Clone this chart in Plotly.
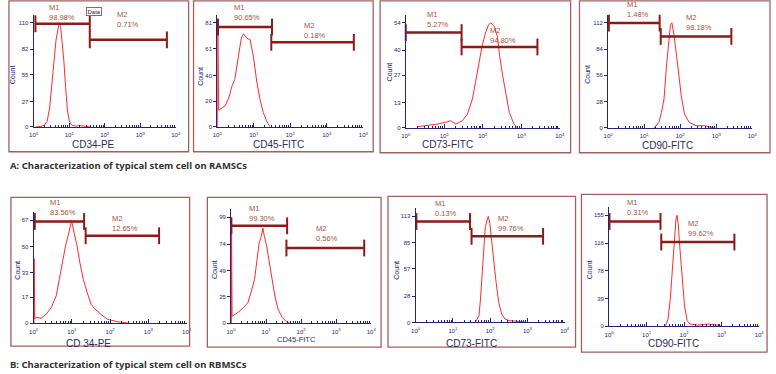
import plotly.graph_objects as go

W, H = 776, 374

# ---------------- data ----------------
# histogram curves: log10(intensity), count
A1_lx = [0.05, 0.2, 0.3, 0.38, 0.45, 0.52, 0.58, 0.63, 0.68, 0.72, 0.76, 0.8, 0.85, 0.9, 0.95, 1.0, 1.05, 1.1, 1.2, 1.3, 1.4, 1.5, 1.6]
A1_ct = [0, 0.5, 2, 6, 20, 45, 72, 92, 104, 110, 106, 92, 70, 42, 18, 7, 3, 1.5, 1, 1.5, 1, 0.5, 0]

A2_lx = [0.01, 0.015, 0.04, 0.135, 0.22, 0.32, 0.405, 0.48, 0.57, 0.66, 0.72, 0.81, 0.9, 0.99, 1.08, 1.17, 1.26, 1.35, 1.44]
A2_ct = [0, 81, 13, 15.2, 16.5, 22.9, 31.9, 37, 53.8, 69.2, 72.5, 69, 67.9, 55, 35.7, 21.6, 11.3, 4.9, 0.2]

A3_lx = [0.32, 0.57, 0.83, 1.08, 1.17, 1.3, 1.47, 1.6, 1.73, 1.81, 1.9, 1.98, 2.07, 2.15, 2.21, 2.3, 2.38, 2.44, 2.52, 2.61, 2.69, 2.81, 2.9]
A3_ct = [0.7, 1.2, 2, 3.2, 3.7, 2, 3.7, 7.1, 14.8, 23.3, 33.5, 41.9, 48.7, 53, 54, 52.1, 47, 36.8, 26.6, 16.5, 8, 2, 0]

A4_lx = [1.28, 1.41, 1.48, 1.55, 1.62, 1.68, 1.73, 1.77, 1.82, 1.89, 1.95, 2.03, 2.12, 2.25, 2.44, 2.67, 2.94]
A4_ct = [0, 6, 16.6, 30.6, 65.9, 94, 110, 112, 101, 80, 58.8, 34, 14.8, 6, 2.4, 2.4, 0]

B1_lx = [0.01, 0.012, 0.03, 0.07, 0.2, 0.33, 0.46, 0.59, 0.67, 0.76, 0.84, 0.93, 0.97, 0.99, 1.06, 1.13, 1.21, 1.3, 1.4, 1.5, 1.59, 1.75, 1.92, 2.18, 2.52]
B1_ct = [0, 42, 3, 3.9, 3.4, 6, 10.3, 17.8, 28.5, 41.4, 51.1, 59.7, 65.5, 67, 58.6, 51.1, 39.3, 28.5, 20, 12.4, 9.7, 6, 2.8, 1.1, 0]

B2_lx = [0.01, 0.012, 0.03, 0.12, 0.22, 0.36, 0.48, 0.57, 0.67, 0.73, 0.8, 0.85, 0.91, 0.95, 1.01, 1.08, 1.15, 1.25, 1.34, 1.46, 1.58, 1.67]
B2_ct = [0, 99, 6.5, 8.6, 10.8, 14.8, 19.4, 28.7, 41, 56.4, 74.9, 79.6, 88.8, 81.1, 73.4, 59.5, 44.1, 25.6, 13.2, 5.6, 1.6, 0]

B3_lx = [1.6, 1.7, 1.74, 1.78, 1.83, 1.87, 1.92, 1.95, 1.99, 2.03, 2.09, 2.16, 2.23, 2.31, 2.4, 2.53, 2.8, 2.98]
B3_ct = [0, 7.1, 24.6, 52.8, 81, 102, 109, 113, 105.6, 89.8, 66.9, 42.2, 21.1, 8.8, 3.5, 1.8, 1, 0]

B4_lx = [1.5, 1.57, 1.63, 1.68, 1.74, 1.78, 1.81, 1.84, 1.89, 1.95, 2.01, 2.08, 2.16, 2.36, 2.62, 2.89, 3.02]
B4_ct = [0, 10.1, 37.8, 74.7, 120.9, 148.5, 155, 143.9, 107, 65.4, 28.6, 7.9, 3.2, 1.8, 3.2, 1.8, 0]

# gates: [start log10, end log10, count level]
A1_M1 = [0.05, 1.58, 109]; A1_M2 = [1.58, 3.75, 92]
A2_M1 = [0.02, 1.5, 77.7]; A2_M2 = [1.48, 3.74, 65.8]
A3_M1 = [0.0, 1.45, 49]; A3_M2 = [1.45, 3.42, 41.6]
A4_M1 = [0.02, 1.43, 111.7]; A4_M2 = [1.46, 3.42, 97.5]
B1_M1 = [0.03, 1.32, 66.2]; B1_M2 = [1.36, 3.28, 56.9]
B2_M1 = [0.01, 1.6, 91]; B2_M2 = [1.58, 3.8, 70.3]
B3_M1 = [0.02, 1.46, 107.4]; B3_M2 = [1.5, 3.42, 91.6]
B4_M1 = [0.01, 1.37, 146.3]; B4_M2 = [1.39, 3.34, 117.6]

# gate percentages
A1_pct = ["98.98%", "0.71%"]
A2_pct = ["90.65%", "0.18%"]
A3_pct = ["5.27%", "94.80%"]
A4_pct = ["1.48%", "98.18%"]
B1_pct = ["83.56%", "12.65%"]
B2_pct = ["99.30%", "0.56%"]
B3_pct = ["0.13%", "99.76%"]
B4_pct = ["0.31%", "99.62%"]

# y tick labels
A1_yt = [0, 27, 55, 82, 110]
A2_yt = [0, 20, 40, 61, 81]
A3_yt = [0, 13, 27, 40, 54]
A4_yt = [0, 28, 56, 84, 112]
B1_yt = [0, 17, 33, 50, 67]
B2_yt = [0, 25, 49, 74, 99]
B3_yt = [0, 28, 57, 85, 113]
B4_yt = [0, 39, 78, 116, 155]

markers_names = ["CD34-PE", "CD45-FITC", "CD73-FITC", "CD90-FITC", "CD 34-PE", "CD45-FITC", "CD73-FITC", "CD90-FITC"]
x_tickvals = [1, 10, 100, 1000, 10000]
x_ticktext = ["10<sup>0</sup>", "10<sup>1</sup>", "10<sup>2</sup>", "10<sup>3</sup>", "10<sup>4</sup>"]
captions = ["A: Characterization of typical stem cell on RAMSCs",
            "B: Characterization of typical stem cell on RBMSCs"]

# ---------------- layout (pixels) ----------------
panels = [
    dict(lx=A1_lx, ct=A1_ct, g=[A1_M1, A1_M2], pct=A1_pct, yt=A1_yt, ax=(29, 173, 128, 23), frame=(4, 0.8, 186, 153),
         lab=[(42.7, 1.5), (111.7, 8.5)], cnt=(8, 75), xt=(90, 146, 10)),
    dict(lx=A2_lx, ct=A2_ct, g=[A2_M1, A2_M2], pct=A2_pct, yt=A2_yt, ax=(215, 363, 128, 23), frame=(191, 0.8, 373, 153),
         lab=[(230, 1.5), (301, 19.0)], cnt=(198, 77), xt=(277, 146, 10)),
    dict(lx=A3_lx, ct=A3_ct, g=[A3_M1, A3_M2], pct=A3_pct, yt=A3_yt, ax=(406, 562, 129, 23), frame=(380, 0.8, 573, 154),
         lab=[(425, 8.0), (489, 24.0)], cnt=(389, 72), xt=(448, 146, 10)),
    dict(lx=A4_lx, ct=A4_ct, g=[A4_M1, A4_M2], pct=A4_pct, yt=A4_yt, ax=(611, 757, 129, 23), frame=(582, 0.8, 775, 154),
         lab=[(628, -2.5), (688, 11.5)], cnt=(590, 75), xt=(671, 147, 10)),
    dict(lx=B1_lx, ct=B1_ct, g=[B1_M1, B1_M2], pct=B1_pct, yt=B1_yt, ax=(29, 184, 326, 222), frame=(6, 199, 187, 349),
         lab=[(43.3, 198), (106.7, 213.5)], cnt=(13, 272), xt=(85, 346, 10)),
    dict(lx=B2_lx, ct=B2_ct, g=[B2_M1, B2_M2], pct=B2_pct, yt=B2_yt, ax=(229, 371, 326, 219), frame=(205, 199, 381, 350),
         lab=[(245, 204), (313.3, 224)], cnt=(213, 272), xt=(295, 342, 7.5)),
    dict(lx=B3_lx, ct=B3_ct, g=[B3_M1, B3_M2], pct=B3_pct, yt=B3_yt, ax=(416, 567, 325, 218), frame=(388, 198, 578, 350),
         lab=[(433.3, 199), (497.7, 213.5)], cnt=(397, 272), xt=(473, 346, 10)),
    dict(lx=B4_lx, ct=B4_ct, g=[B4_M1, B4_M2], pct=B4_pct, yt=B4_yt, ax=(612, 764, 329, 217), frame=(584, 196, 772, 355),
         lab=[(628.3, 198), (690, 219)], cnt=(592, 272), xt=(677, 346, 10)),
]

NAVY = "#24247a"
FRAME = "#a0625e"
GATE = "#8b1a1a"
LABEL = "#a3553f"
CURVE = "#ff2b2b"
FONT = "Liberation Sans, Arial, sans-serif"

fig = go.Figure()
layout = dict(width=W, height=H, margin=dict(l=0, r=0, t=0, b=0), paper_bgcolor="white",
              plot_bgcolor="rgba(0,0,0,0)", showlegend=False, shapes=[], annotations=[])

def px(x):
    return x / W

def py(y):
    return 1 - y / H

for i, p in enumerate(panels):
    n = i + 1
    xa = "x" if n == 1 else f"x{n}"
    ya = "y" if n == 1 else f"y{n}"
    xk = "xaxis" if n == 1 else f"xaxis{n}"
    yk = "yaxis" if n == 1 else f"yaxis{n}"
    x0, x1, y0p, ytp = p["ax"]
    ymax = p["yt"][-1]
    ppu = (y0p - ytp) / ymax
    pad = 8 / ppu
    toppix = ytp - 8

    fig.add_trace(go.Scatter(x=[10 ** v for v in p["lx"]], y=p["ct"], mode="lines",
                             line=dict(color=CURVE, width=1), xaxis=xa, yaxis=ya, hoverinfo="skip"))
    for g in p["g"]:
        fig.add_trace(go.Scatter(x=[10 ** g[0], 10 ** g[1]], y=[g[2], g[2]], mode="lines+markers",
                                 line=dict(color=GATE, width=2.5),
                                 marker=dict(symbol="line-ns", size=12, line=dict(color=GATE, width=2)),
                                 cliponaxis=False, xaxis=xa, yaxis=ya, hoverinfo="skip"))

    layout[xk] = dict(type="log", range=[0, 4], domain=[px(x0), px(x1)], anchor=ya,
                      showgrid=False, zeroline=False, showline=True, linecolor=NAVY, linewidth=1,
                      ticks="inside", ticklen=4, tickcolor=NAVY, tickwidth=1,
                      tickvals=x_tickvals, ticktext=x_ticktext, ticklabelstandoff=2,
                      tickfont=dict(size=6, color=NAVY, family=FONT),
                      minor=dict(ticks="inside", ticklen=2, tickcolor=NAVY, dtick="D1", showgrid=False))
    layout[yk] = dict(range=[0, ymax + pad], domain=[py(y0p), py(toppix)], anchor=xa,
                      showgrid=False, zeroline=False, showline=True, linecolor=NAVY, linewidth=1,
                      ticks="outside", ticklen=3, tickcolor=NAVY, tickvals=p["yt"],
                      tickfont=dict(size=6, color=NAVY, family=FONT))

    fx0, fy0, fx1, fy1 = p["frame"]
    layout["shapes"].append(dict(type="rect", xref="paper", yref="paper", x0=px(fx0), x1=px(fx1),
                                 y0=py(fy1), y1=py(fy0), line=dict(color=FRAME, width=1.3)))
    for k, (lxp, lyp) in enumerate(p["lab"]):
        layout["annotations"].append(dict(xref="paper", yref="paper", x=px(lxp), y=py(lyp),
                                          xanchor="left", yanchor="top", showarrow=False, align="left",
                                          text=f"M{k + 1}<br>{p['pct'][k]}",
                                          font=dict(size=7.5, color=LABEL, family=FONT)))
    cx, cy = p["cnt"]
    layout["annotations"].append(dict(xref="paper", yref="paper", x=px(cx), y=py(cy), textangle=-90,
                                      xanchor="center", yanchor="middle",
                                      showarrow=False, text="Count",
                                      font=dict(size=7, color=NAVY, family=FONT)))
    tx, ty, ts = p["xt"]
    layout["annotations"].append(dict(xref="paper", yref="paper", x=px(tx), y=py(ty), showarrow=False,
                                      xanchor="center", yanchor="middle",
                                      text=markers_names[i], font=dict(size=ts, color="#2c2c55", family=FONT)))

# "Data" tag in the first panel
layout["annotations"].append(dict(xref="paper", yref="paper", x=px(90), y=py(12), showarrow=False,
                                  xanchor="center", yanchor="middle",
                                  text="Data", bgcolor="white", bordercolor=FRAME, borderwidth=1, borderpad=0.5,
                                  font=dict(size=6, color=NAVY, family=FONT)))
# captions
for cap, cy in zip(captions, [167, 367]):
    layout["annotations"].append(dict(xref="paper", yref="paper", x=px(3), y=py(cy), xanchor="left",
                                      yanchor="middle", showarrow=False, text=f"<b>{cap}</b>",
                                      font=dict(size=9.5, color="#333333", family="Noto Sans, sans-serif")))

fig.update_layout(**layout)
# place the figure at the page's top-left corner (remove the default body margin)
fig.write_html("out.html", config={"displayModeBar": False, "staticPlot": True},
               post_script="document.body.style.margin='0';document.body.style.overflow='hidden';")
